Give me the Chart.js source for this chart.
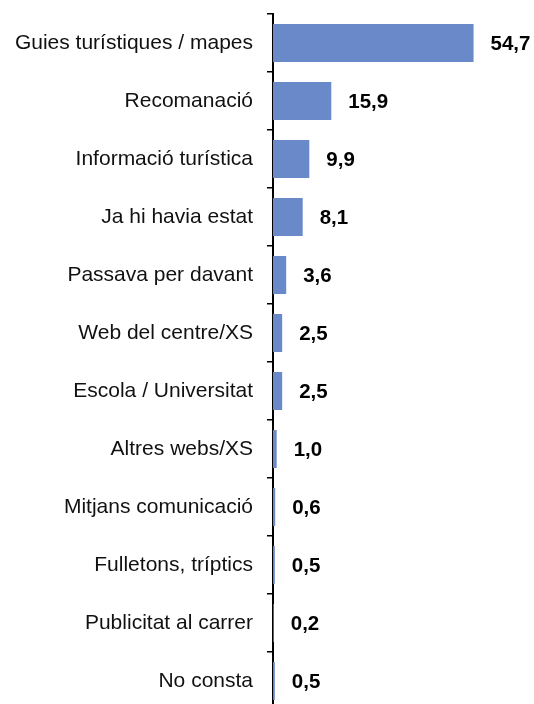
<!DOCTYPE html>
<html>
<head>
<meta charset="utf-8">
<script src="https://cdn.jsdelivr.net/npm/chart.js@4/dist/chart.umd.min.js"></script>
<style>
html,body{margin:0;padding:0;background:#fff;overflow:hidden;}
#wrap{width:534px;height:720px;}
</style>
</head>
<body>
<div id="wrap"><canvas id="c" width="534" height="720"></canvas></div>
<script>
const categories = [
  "Guies turístiques / mapes",
  "Recomanació",
  "Informació turística",
  "Ja hi havia estat",
  "Passava per davant",
  "Web del centre/XS",
  "Escola / Universitat",
  "Altres webs/XS",
  "Mitjans comunicació",
  "Fulletons, tríptics",
  "Publicitat al carrer",
  "No consta"
];
const values = [54.7, 15.9, 9.9, 8.1, 3.6, 2.5, 2.5, 1.0, 0.6, 0.5, 0.2, 0.5];

const FONT = '"Liberation Sans", Arial, sans-serif';

const valueLabels = {
  id: 'valueLabels',
  afterDatasetsDraw(chart) {
    const ctx = chart.ctx;
    const meta = chart.getDatasetMeta(0);
    ctx.save();
    ctx.font = 'bold 20.5px ' + FONT;
    ctx.fillStyle = '#000';
    ctx.textAlign = 'left';
    ctx.textBaseline = 'middle';
    meta.data.forEach((bar, i) => {
      const txt = values[i].toFixed(1).replace('.', ',');
      ctx.fillText(txt, bar.x + 17, bar.y + 1);
    });
    ctx.restore();
  }
};

new Chart(document.getElementById('c'), {
  type: 'bar',
  data: {
    labels: categories,
    datasets: [{
      data: values,
      backgroundColor: '#6a89c9',
      borderWidth: 0,
      categoryPercentage: 1,
      barPercentage: 0.655
    }]
  },
  options: {
    indexAxis: 'y',
    responsive: false,
    animation: false,
    layout: { padding: { top: 14, bottom: 10, left: 0, right: 41 } },
    plugins: { legend: { display: false }, tooltip: { enabled: false } },
    scales: {
      x: { display: false, min: 0, max: 60 },
      y: {
        afterFit(scale) { scale.width = 273; scale.paddingTop = 0; scale.paddingBottom = 0; },
        grid: { drawOnChartArea: false, drawTicks: true, tickLength: 6, color: '#000', lineWidth: 1.5, offset: true },
        border: { display: true, color: '#000', width: 2 },
        ticks: { color: '#111', padding: 14, font: { family: FONT, size: 21 } }
      }
    }
  },
  plugins: [valueLabels]
});
</script>
</body>
</html>
